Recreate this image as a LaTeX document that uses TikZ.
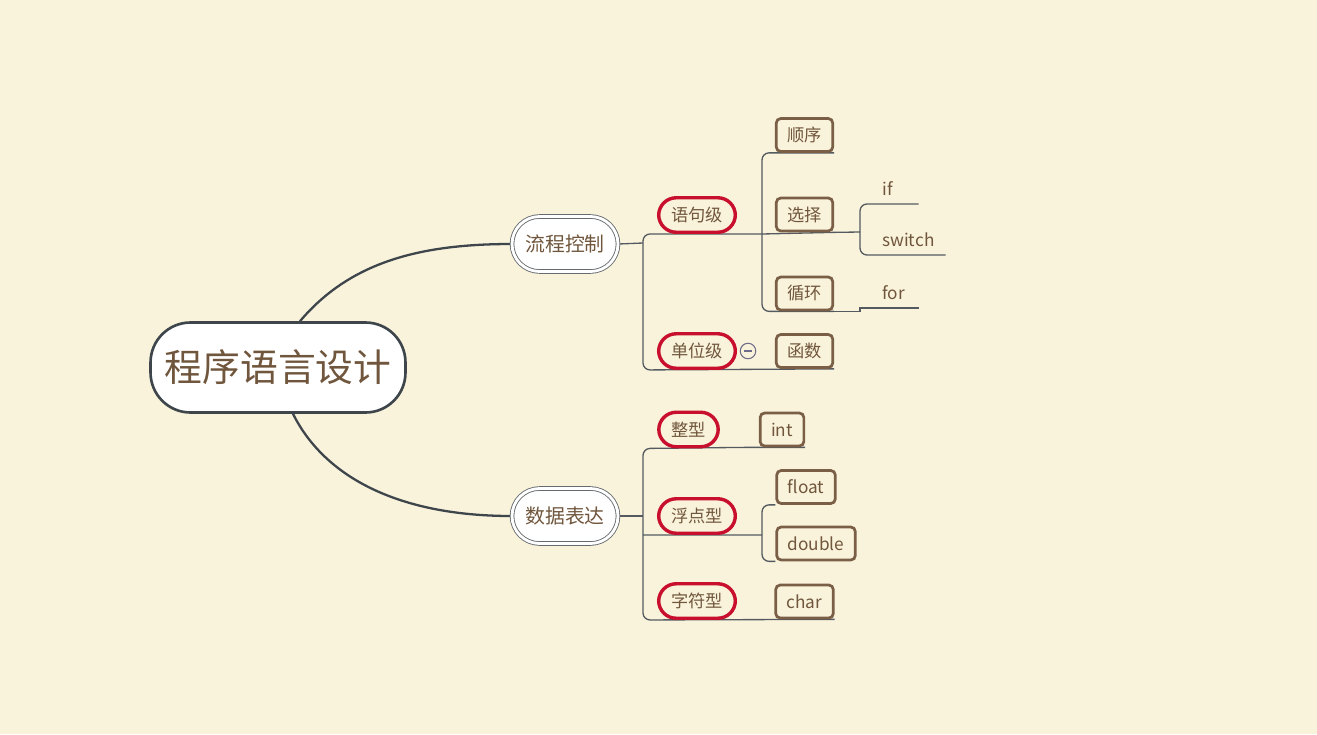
\documentclass[tikz,border=0pt]{standalone}
\usepackage{fontspec}
\setmainfont{Noto Sans CJK SC}
\usepackage{xcolor}
\usepackage{tikz}
\usetikzlibrary{positioning, calc}

\definecolor{paper}{RGB}{250,243,220}
\definecolor{textbrown}{RGB}{112,86,60}
\definecolor{rootgray}{RGB}{62,70,76}
\definecolor{linegray}{RGB}{84,90,96}
\definecolor{tagred}{RGB}{200,16,46}
\definecolor{boxbrown}{RGB}{122,95,70}
\definecolor{icongray}{RGB}{110,108,135}

\pgfdeclarelayer{back}
\pgfdeclarelayer{wires}
\pgfsetlayers{back,wires,main}

\tikzset{
  rootbox/.style={draw=rootgray, line width=1.5pt, fill=white, rounded corners=0.8cm,
    minimum width=5.1cm, minimum height=1.8cm, text=textbrown,
    font=\fontsize{21.5}{26}\selectfont},
  mainbox/.style={draw=rootgray!80, line width=0.5pt, double=white, double distance=1.6pt,
    fill=white, rounded corners=0.55cm, minimum width=2.12cm, minimum height=1.1cm,
    text=textbrown, font=\fontsize{11.3}{14}\selectfont},
  tagbox/.style={draw=tagred, line width=1.95pt, fill=paper, rounded corners=0.35cm,
    inner xsep=0.25cm, minimum height=0.69cm, text=textbrown,
    font=\fontsize{9.8}{12}\selectfont},
  itembox/.style={draw=boxbrown, line width=1.55pt, fill=paper, rounded corners=0.09cm,
    inner xsep=0.22cm, minimum height=0.66cm, text=textbrown,
    font=\fontsize{9.8}{12}\selectfont},
  leaf/.style={anchor=south west, inner xsep=0pt, inner ysep=0.1cm, align=left,
    text height=0.25cm, text depth=0.06cm, text=textbrown,
    font=\fontsize{9.8}{12}\selectfont},
  branch/.style={draw=linegray, line width=0.75pt},
  curve/.style={draw=rootgray, line width=1.3pt}
}

\begin{document}
\begin{tikzpicture}[x=0.02cm, y=-0.02cm]
  \begin{pgfonlayer}{back}
    \fill[paper] (0,0) rectangle (1317,734);
  \end{pgfonlayer}
  \useasboundingbox (0,0) rectangle (1317,734);

  % central topic and main branches
  \node[rootbox] (root) at (278,367.5) {程序语言设计};
  \node[mainbox] (flow) at (565,244) {流程控制};
  \node[mainbox] (data) at (565,516) {数据表达};

  % second level
  \node[tagbox] (stmt) at (697,215) {语句级};
  \node[tagbox] (unit) at (697,351) {单位级};
  \node[tagbox] (intg) at (688.5,429.5) {整型};
  \node[tagbox] (flt) at (697,516) {浮点型};
  \node[tagbox] (chr) at (697,601) {字符型};

  % third level
  \node[itembox] (seq) at (804.5,135) {顺序};
  \node[itembox] (sel) at (804.5,214.5) {选择};
  \node[itembox] (loop) at (804.5,293.5) {循环};
  \node[itembox] (func) at (804.5,351) {函数};
  \node[itembox] (intbox) at (782,429.5) {int};
  \node[itembox] (fltbox) at (806,487) {float};
  \node[itembox] (dblbox) at (816,543.5) {double};
  \node[itembox] (chrbox) at (804.5,601.5) {char};

  % plain leaves
  \node[leaf, text width=0.72cm] (ifx) at (882,204) {if};
  \node[leaf, text width=1.26cm] (switchx) at (882,255) {switch};
  \node[leaf, text width=0.72cm] (forx) at (882,308) {for};

  % collapse mark
  \node[circle, draw=icongray, line width=0.6pt, fill=paper, minimum size=0.31cm,
    inner sep=0pt] (fold) at (748,351) {};
  \draw[icongray, line width=0.6pt] ($(fold.center)+(-4,0)$) -- ($(fold.center)+(4,0)$);

  \coordinate (j1) at (643,243);
  \coordinate (j2) at (762,234);
  \coordinate (j3) at (860,232);
  \coordinate (j4) at (643,516);
  \coordinate (j5) at (762,535);

  \begin{pgfonlayer}{wires}
    \draw[curve] ([xshift=0.44cm]root.north) .. controls (350,262) and (420,244) .. (flow.west);
    \draw[curve] ([xshift=0.3cm]root.south) .. controls (325,478) and (400,516) .. (data.west);

    % flow control
    \draw[branch] (flow.east) -- (j1);
    \draw[branch, rounded corners=4] (j2) -- (stmt.south -| j1) -- (unit.south -| j1)
      -- (func.south east);
    \draw[branch, rounded corners=4] (seq.south east) -- (seq.south -| j2)
      -- (loop.south -| j2) -- (loop.south -| sel.east);
    \draw[branch] (j2) -- (sel.south east) -- (j3);
    \draw[branch, rounded corners=4] (ifx.south east) -- (ifx.south -| j3)
      -- (switchx.south -| j3) -- (switchx.south east);
    \draw[branch] (loop.south east) -- (loop.south -| j3) -- (forx.south -| j3)
      -- (forx.south east);

    % data
    \draw[branch] (data.east) -- (j4);
    \draw[branch, rounded corners=4] (intbox.south east) -- ([xshift=-0.24cm]intbox.south west)
      -- (intg.south -| j4) -- (chr.south -| j4) -- (chrbox.south east);
    \draw[branch] (flt.south -| j4) -- (j5);
    \draw[branch, rounded corners=4] (fltbox.south west) -- (fltbox.south -| j5)
      -- (dblbox.south -| j5) -- (dblbox.south west);
  \end{pgfonlayer}
\end{tikzpicture}
\end{document}
